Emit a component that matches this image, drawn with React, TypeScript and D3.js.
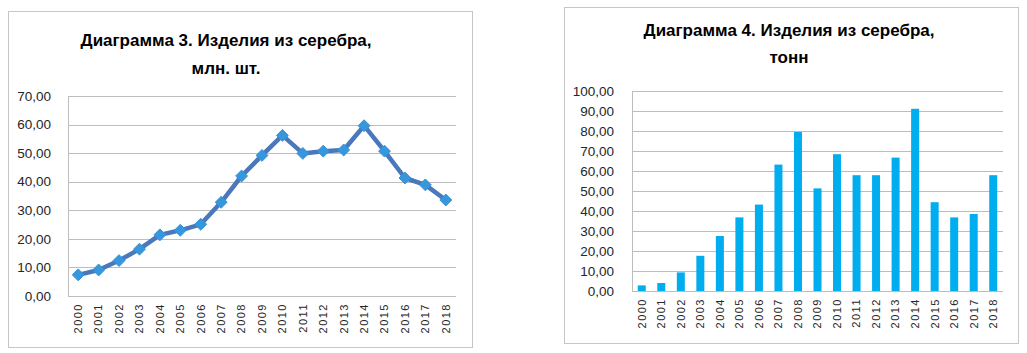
import { useEffect, useRef } from 'react';
import * as d3 from 'd3';

// Years shared by both charts
const years = ['2000', '2001', '2002', '2003', '2004', '2005', '2006', '2007', '2008', '2009',
  '2010', '2011', '2012', '2013', '2014', '2015', '2016', '2017', '2018'];

// Diagram 3: silver items, mln pcs
const piecesMln = [7.4, 9.1, 12.4, 16.4, 21.4, 23.0, 25.1, 32.8, 42.0, 49.2,
  56.2, 49.9, 50.7, 51.1, 59.6, 50.7, 41.3, 38.9, 33.6];
const piecesTicks = [0, 10, 20, 30, 40, 50, 60, 70];

// Diagram 4: silver items, tonnes
const tonnes = [2.8, 4.0, 9.3, 17.6, 27.5, 36.8, 43.2, 63.2, 79.5, 51.3,
  68.4, 57.9, 57.9, 66.7, 91.1, 44.4, 36.8, 38.5, 57.9];
const tonnesTicks = [0, 10, 20, 30, 40, 50, 60, 70, 80, 90, 100];

const titles3 = ['Диаграмма 3. Изделия из серебра,', 'млн. шт.'];
const titles4 = ['Диаграмма 4. Изделия из серебра,', 'тонн'];

const W = 1027, H = 353;
const FONT = '"Liberation Sans", Arial, sans-serif';
const fmt = (v: number) => v.toFixed(2).replace('.', ',');

export default function App() {
  const svgRef = useRef<SVGSVGElement>(null);

  useEffect(() => {
    if (!svgRef.current) return;
    const svg = d3.select(svgRef.current);
    svg.selectAll('*').remove();

    svg.append('rect').attr('width', W).attr('height', H).attr('fill', 'white');

    // shared frame / grid / labels builder
    const panel = (opts: {
      frame: [number, number, number, number];
      plot: { l: number; r: number; t: number; b: number };
      ticks: number[];
      titles: string[];
      titleX: number;
      titleY: [number, number];
      labelX: number;
    }) => {
      const { frame, plot, ticks } = opts;
      svg.append('rect').attr('x', frame[0] + 0.5).attr('y', frame[1] + 0.5)
        .attr('width', frame[2]).attr('height', frame[3])
        .attr('fill', 'white').attr('stroke', '#c6c6c6').attr('stroke-width', 1);

      const y = d3.scaleLinear().domain([0, d3.max(ticks) as number]).range([plot.b, plot.t]);
      const x = d3.scaleBand<string>().domain(years).range([plot.l, plot.r]);

      const g = svg.append('g');
      g.selectAll('line.grid').data(ticks).enter().append('line')
        .attr('x1', plot.l).attr('x2', plot.r)
        .attr('y1', d => Math.round(y(d)) + 0.5).attr('y2', d => Math.round(y(d)) + 0.5)
        .attr('stroke', '#bdbdbd').attr('stroke-width', 1);
      g.append('line').attr('x1', plot.l + 0.5).attr('x2', plot.l + 0.5)
        .attr('y1', plot.t).attr('y2', plot.b).attr('stroke', '#bdbdbd');

      g.selectAll('text.yl').data(ticks).enter().append('text')
        .attr('x', opts.labelX).attr('y', d => y(d)).attr('dy', '0.35em')
        .attr('text-anchor', 'end').attr('font-family', FONT).attr('font-size', 13.5)
        .attr('fill', '#262626').text(d => fmt(d));

      g.selectAll('text.xl').data(years).enter().append('text')
        .attr('transform', d => `translate(${(x(d) as number) + x.bandwidth() / 2},${plot.b + 7}) rotate(-90)`)
        .attr('dy', '0.35em').attr('text-anchor', 'end')
        .attr('font-family', FONT).attr('font-size', 11).attr('letter-spacing', 1.5)
        .attr('fill', '#262626').text(d => d);

      opts.titles.forEach((t, i) => {
        svg.append('text').attr('x', opts.titleX).attr('y', opts.titleY[i])
          .attr('text-anchor', 'middle').attr('font-family', FONT).attr('font-weight', 'bold')
          .attr('font-size', 17).attr('fill', '#000').text(t);
      });
      return { x, y };
    };

    // Left: line chart
    const p3 = { l: 68, r: 456, t: 96, b: 296 };
    const s3 = panel({ frame: [8, 11, 464, 336], plot: p3, ticks: piecesTicks, titles: titles3,
      titleX: 226, titleY: [46, 74], labelX: 51 });
    const cx3 = (i: number) => (s3.x(years[i]) as number) + s3.x.bandwidth() / 2;
    const line = d3.line<number>().x((_, i) => cx3(i)).y(d => s3.y(d));
    svg.append('path').datum(piecesMln).attr('d', line)
      .attr('fill', 'none').attr('stroke', '#4a78bd').attr('stroke-width', 4.5)
      .attr('stroke-linejoin', 'round').attr('stroke-linecap', 'round');
    const diamond = d3.symbol().type(d3.symbolDiamond2).size(90);
    svg.selectAll('path.mk').data(piecesMln).enter().append('path')
      .attr('d', diamond).attr('transform', (d, i) => `translate(${cx3(i)},${s3.y(d)})`)
      .attr('fill', '#3598dc').attr('stroke', '#3b8fd6').attr('stroke-width', 1);

    // Right: bar chart
    const p4 = { l: 632, r: 1003, t: 91, b: 291 };
    const s4 = panel({ frame: [564, 7, 454, 336], plot: p4, ticks: tonnesTicks, titles: titles4,
      titleX: 789, titleY: [36, 63], labelX: 614 });
    const bw = s4.x.bandwidth() * 0.41;
    svg.selectAll('rect.bar').data(tonnes).enter().append('rect')
      .attr('x', (_, i) => (s4.x(years[i]) as number) + (s4.x.bandwidth() - bw) / 2)
      .attr('y', d => s4.y(d)).attr('width', bw).attr('height', d => p4.b - s4.y(d))
      .attr('fill', '#00adef');
  }, []);

  return (
    <svg ref={svgRef} width={W} height={H} viewBox={`0 0 ${W} ${H}`}
      style={{ position: 'absolute', left: 0, top: 0, display: 'block' }} />
  );
}
